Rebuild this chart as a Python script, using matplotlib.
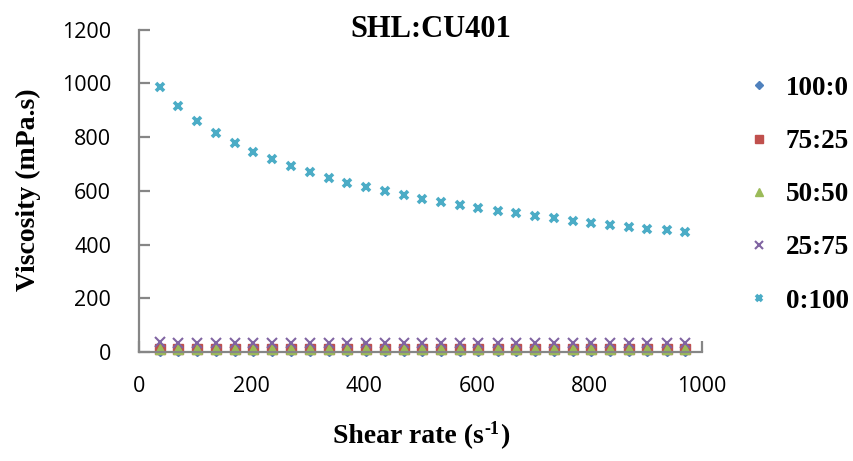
import matplotlib
matplotlib.use("Agg")
import matplotlib.pyplot as plt

shear_rate = [37, 70, 103, 137, 170, 203, 237, 270, 303, 337, 370, 403, 437, 470, 503,
              537, 570, 603, 637, 670, 703, 737, 770, 803, 837, 870, 903, 937, 970]

visc_100_0 = [3, 3, 3, 3, 3, 3, 3, 3, 3, 3, 3, 3, 3, 3, 3,
              3, 3, 3, 3, 3, 3, 3, 3, 3, 3, 3, 3, 3, 3]
visc_75_25 = [12, 12, 12, 12, 12, 11, 11, 11, 11, 11, 11, 11, 11, 11, 11,
              11, 11, 11, 11, 11, 11, 11, 11, 11, 11, 11, 11, 11, 11]
visc_50_50 = [11, 11, 11, 11, 11, 10, 10, 10, 10, 10, 10, 10, 10, 10, 10,
              10, 10, 10, 10, 10, 10, 10, 10, 10, 10, 10, 10, 10, 10]
visc_25_75 = [36, 35, 35, 35, 35, 35, 35, 35, 35, 35, 35, 35, 35, 35, 35,
              35, 35, 35, 35, 35, 35, 35, 35, 35, 35, 35, 35, 35, 35]
visc_0_100 = [987, 917, 861, 815, 778, 745, 718, 692, 670, 648, 630, 614, 598, 584, 570,
              558, 546, 535, 525, 516, 506, 497, 488, 481, 472, 465, 459, 453, 446]

labels = ["100:0", "75:25", "50:50", "25:75", "0:100"]
title = "SHL:CU401"
xlabel_parts = ["Shear rate (s", "-1", ")"]
ylabel = "Viscosity (mPa.s)"

fig = plt.figure(figsize=(8.54, 4.61), dpi=100)
ax = fig.add_axes([139/854, 1-352/461, (702-139)/854, (352-29.6)/461])

serif_bold = dict(family="Liberation Serif", weight="bold")

ax.plot(shear_rate, visc_100_0, linestyle="none", marker="D", ms=5, color="#4F81BD", label=labels[0], clip_on=False)
ax.plot(shear_rate, visc_75_25, linestyle="none", marker="s", ms=7, color="#C0504D", label=labels[1], clip_on=False)
ax.plot(shear_rate, visc_50_50, linestyle="none", marker="^", ms=7.5, color="#9BBB59", label=labels[2], clip_on=False)
ax.plot(shear_rate, visc_25_75, linestyle="none", marker="x", ms=6.5, mew=1.5, color="#8064A2", label=labels[3], clip_on=False)
ax.plot(shear_rate, visc_0_100, linestyle="none", marker="x", ms=6, mew=2.6, color="#4BACC6", label=labels[4], clip_on=False)

ax.set_xlim(0, 1000)
ax.set_ylim(0, 1200)
ax.set_xticks([0, 200, 400, 600, 800, 1000])
ax.set_yticks([0, 200, 400, 600, 800, 1000, 1200])

for s in ["top", "right"]:
    ax.spines[s].set_visible(False)
for s in ["left", "bottom"]:
    ax.spines[s].set_color("#868686")
    ax.spines[s].set_linewidth(1.6)

ax.tick_params(axis="both", direction="in", length=8, width=1.6, color="#868686",
               labelsize=15.5, labelcolor="black")
ax.tick_params(axis="y", pad=20)
ax.tick_params(axis="x", pad=17)
for lab in ax.get_xticklabels() + ax.get_yticklabels():
    lab.set_family("Open Sans")

fig.text(431/854, 1-37/461, title, ha="center", va="baseline", fontsize=22, **serif_bold)
fig.text(28/854, 1-190/461, ylabel, ha="center", va="center", rotation=90, fontsize=20, **serif_bold)

# x label built from pieces so that the superscript is a small hyphen-one
renderer = fig.canvas.get_renderer()
fs_main, fs_sup = 20, 13
t1 = fig.text(0, 1-443/461, xlabel_parts[0], ha="left", va="baseline", fontsize=fs_main, **serif_bold)
t2 = fig.text(0, 0, xlabel_parts[1], fontsize=fs_sup, ha="left", va="baseline", **serif_bold)
t3 = fig.text(0, 1-443/461, xlabel_parts[2], ha="left", va="baseline", fontsize=fs_main, **serif_bold)
w1 = t1.get_window_extent(renderer).width
w2 = t2.get_window_extent(renderer).width
w3 = t3.get_window_extent(renderer).width
total = w1 + w2 + w3 + 1
x0 = 421 - total / 2
t1.set_x(x0 / 854)
t2.set_position(((x0 + w1 + 0.5) / 854, (461 - 443 + 9) / 461))
t3.set_x((x0 + w1 + w2 + 1) / 854)

leg = fig.legend(loc="upper left", bbox_to_anchor=(735/854, 1-65/461), frameon=False,
                 prop=dict(family="Liberation Serif", weight="bold", size=19.5),
                 labelspacing=1.04, handlelength=1.0, handletextpad=0.48, borderaxespad=0,
                 markerscale=0.8)

fig.savefig("out.png", dpi=100)
